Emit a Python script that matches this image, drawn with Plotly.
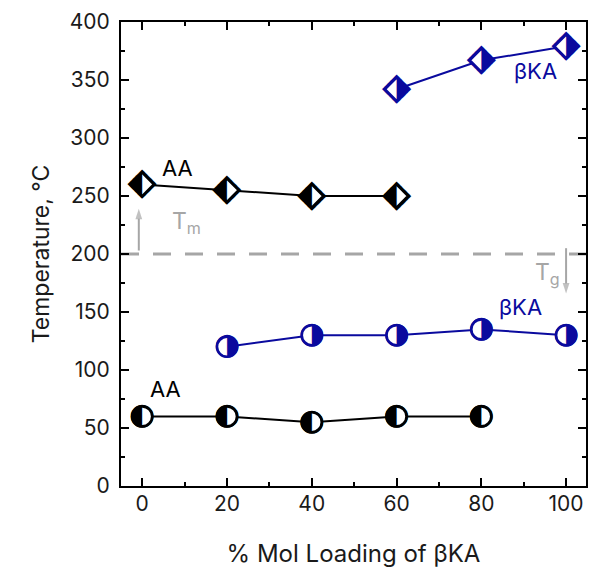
import plotly.graph_objects as go

# ---------------- data ----------------
x_tm_aa = [0, 20, 40, 60]
tm_aa = [260, 255, 250, 250]
x_tm_bka = [60, 80, 100]
tm_bka = [342, 367, 379]
x_tg_aa = [0, 20, 40, 60, 80]
tg_aa = [60, 60, 55, 60, 60]
x_tg_bka = [20, 40, 60, 80, 100]
tg_bka = [120, 130, 130, 135, 130]

divider_temp = 200
x_ticks = [0, 20, 40, 60, 80, 100]
y_ticks = [0, 50, 100, 150, 200, 250, 300, 350, 400]

# label positions (data units)
lbl_aa_tm = (8.4, 274)
lbl_aa_tg = (5.5, 84)
lbl_bka_tm = (92.8, 358)
lbl_bka_tg = (89.2, 154)
lbl_tm = (10.5, 227)
lbl_tg = (95.5, 183)
arrow_tm_x = [-0.8, -0.8]
arrow_tm_y = [203, 239]
arrow_tg_x = [100, 100]
arrow_tg_y = [205, 166]

BLACK = "#000000"
BLUE = "#0a0a9e"
GREY = "#a6a6a6"
FONT = "Inter, Lato, Noto Sans, sans-serif"

fig = go.Figure()

fig.add_shape(type="line", xref="paper", x0=0, x1=1, yref="y", y0=divider_temp, y1=divider_temp,
              line=dict(color=GREY, width=3, dash="18px,14px"), layer="below")

# grey arrows (line + arrow-head marker)
for ax, ay in ((arrow_tm_x, arrow_tm_y), (arrow_tg_x, arrow_tg_y)):
    fig.add_trace(go.Scatter(
        x=ax, y=ay, mode="lines+markers", line=dict(color=GREY, width=2),
        marker=dict(symbol=["circle", "arrow"], size=[0, 11], angleref="previous",
                    color=GREY, line=dict(width=0)),
        hoverinfo="skip", showlegend=False))


def add_series(x, y, color, symbol, size, glyph, gsize):
    fig.add_trace(go.Scatter(
        x=x, y=y, mode="lines+markers", cliponaxis=False,
        line=dict(color=color, width=2),
        marker=dict(symbol=symbol, size=size, color="white", line=dict(width=0)),
        hoverinfo="x+y", showlegend=False))
    fig.add_trace(go.Scatter(
        x=x, y=y, mode="text", text=[glyph] * len(x), cliponaxis=False,
        textposition="middle center",
        textfont=dict(family="DejaVu Sans", size=gsize, color=color),
        hoverinfo="skip", showlegend=False))
    fig.add_trace(go.Scatter(
        x=x, y=y, mode="markers", cliponaxis=False,
        marker=dict(symbol=symbol + "-open", size=size, color=color,
                    line=dict(width=2.6, color=color)),
        hoverinfo="skip", showlegend=False))


add_series(x_tm_aa, tm_aa, BLACK, "diamond", 18, "\u2b16", 38)
add_series(x_tm_bka, tm_bka, BLUE, "diamond", 18, "\u2b17", 38)
add_series(x_tg_aa, tg_aa, BLACK, "circle", 20, "\u25d0", 30)
add_series(x_tg_bka, tg_bka, BLUE, "circle", 20, "\u25d1", 30)

annotations = [
    dict(x=lbl_aa_tm[0], y=lbl_aa_tm[1], text="AA", font=dict(color=BLACK, size=22, family=FONT)),
    dict(x=lbl_aa_tg[0], y=lbl_aa_tg[1], text="AA", font=dict(color=BLACK, size=22, family=FONT)),
    dict(x=lbl_bka_tm[0], y=lbl_bka_tm[1], text="βKA", font=dict(color=BLUE, size=22, family=FONT)),
    dict(x=lbl_bka_tg[0], y=lbl_bka_tg[1], text="βKA", font=dict(color=BLUE, size=22, family=FONT)),
    dict(x=lbl_tm[0], y=lbl_tm[1], text="T<sub>m</sub>", font=dict(color=GREY, size=23, family=FONT)),
    dict(x=lbl_tg[0], y=lbl_tg[1], text="T<sub>g</sub>", font=dict(color=GREY, size=23, family=FONT)),
]
for a in annotations:
    a.update(xref="x", yref="y", showarrow=False)

axis_common = dict(
    showline=True, linecolor="black", linewidth=2, mirror="allticks",
    ticks="inside", ticklen=8, tickwidth=2, tickcolor="black",
    showgrid=False, zeroline=False, automargin=False,
    tickfont=dict(family=FONT, size=21, color="#1a1a1a"),
)

# the page body adds an 8px offset; figure sized to fit the window
fig.update_layout(
    width=595, height=567,
    margin=dict(l=113, r=17, t=14, b=89),
    plot_bgcolor="white", paper_bgcolor="white",
    showlegend=False,
    annotations=annotations,
    xaxis=dict(range=[-5, 104.7], tickvals=x_ticks, ticklabelstandoff=-2,
               minor=dict(ticks="inside", ticklen=4, tickwidth=2, tickcolor="black", dtick=10, tick0=0),
               title=dict(text="% Mol Loading of βKA", font=dict(family=FONT, size=24, color="#1a1a1a"), standoff=30),
               **axis_common),
    yaxis=dict(range=[0, 400], tickvals=y_ticks, ticklabelstandoff=5,
               minor=dict(ticks="inside", ticklen=4, tickwidth=2, tickcolor="black", dtick=25, tick0=0),
               title=dict(text="Temperature, °C", font=dict(family=FONT, size=23, color="#1a1a1a"), standoff=14),
               **axis_common),
)

fig.write_html("out.html")
